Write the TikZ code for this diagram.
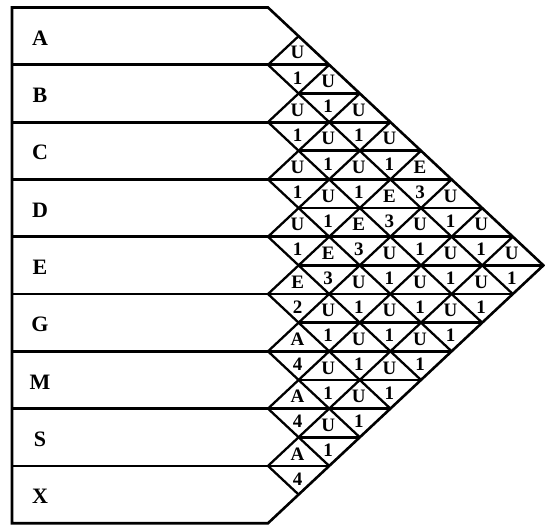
\documentclass[tikz,border=0pt]{standalone}
\usepackage{fontspec}
\setmainfont{Liberation Serif}
\usepackage{tikz}
\usetikzlibrary{calc}

\begin{document}
\begin{tikzpicture}[x=1pt,y=-1pt,
    rowname/.style={font=\fontsize{22}{22}\selectfont\bfseries,inner sep=0pt},
    relcode/.style={font=\fontsize{19}{19}\selectfont\bfseries,inner sep=0pt},
    relnum/.style={font=\fontsize{19}{19}\selectfont\bfseries,inner sep=0pt},
    frame/.style={line width=2.6pt,line join=miter},
    cut/.style={line width=2.8pt},
    slant/.style={line width=2.3pt}
  ]
    \useasboundingbox (0,0) rectangle (545,525);
    % grid origin, row height, cell width
    \def\xo{268}\def\yo{7.5}\def\hr{57.3}\def\cw{61.2}

    \draw[frame] (\xo,\yo) -- (12,\yo) -- (12,\yo+9*\hr) -- (\xo,\yo+9*\hr)
      -- (\xo+4.5*\cw,\yo+4.5*\hr) -- cycle;

    % row boundaries
    \foreach \k in {1,...,8} {
      \pgfmathsetmacro\reach{min(\k,9-\k)}
      \draw[cut] (12,\yo+\k*\hr) -- (\xo+\reach*\cw,\yo+\k*\hr);
    }
    % half-row lines
    \foreach \k in {1,...,7} {
      \pgfmathsetmacro\reach{min(2*\k+1,17-2*\k)/2}
      \draw[cut] (\xo+0.5*\cw,\yo+\k*\hr+0.5*\hr) -- (\xo+\reach*\cw,\yo+\k*\hr+0.5*\hr);
    }
    % diagonals
    \foreach \k in {1,...,8} {
      \draw[slant] (\xo,\yo+\k*\hr) -- ++({\k*0.5*\cw},{-\k*0.5*\hr});
      \draw[slant] (\xo,\yo+\k*\hr) -- ++({(9-\k)*0.5*\cw},{(9-\k)*0.5*\hr});
    }

    \foreach \lab [count=\r from 0] in {A,B,C,D,E,G,M,S,X}
      \node[rowname] (row\lab) at (40,\yo+\r*\hr+0.5*\hr+2) {\lab};

    \foreach \i/\j/\c/\n in {0/1/U/1,0/2/U/1,0/3/U/1,0/4/U/1,0/5/E/3,0/6/U/1,0/7/U/1,0/8/U/1,
        1/2/U/1,1/3/U/1,1/4/U/1,1/5/E/3,1/6/U/1,1/7/U/1,1/8/U/1,
        2/3/U/1,2/4/U/1,2/5/E/3,2/6/U/1,2/7/U/1,2/8/U/1,
        3/4/U/1,3/5/E/3,3/6/U/1,3/7/U/1,3/8/U/1,
        4/5/E/2,4/6/U/1,4/7/U/1,4/8/U/1,
        5/6/A/4,5/7/U/1,5/8/U/1,
        6/7/A/4,6/8/U/1,
        7/8/A/4} {
      \node[relcode] (c\i\j) at ({\xo+(\j-\i)*0.5*\cw-1},{\yo+(\i+\j+1)*0.5*\hr-12}) {\c};
      \node[relnum] (n\i\j) at ({\xo+(\j-\i)*0.5*\cw-1},{\yo+(\i+\j+1)*0.5*\hr+13}) {\n};
    }
  \end{tikzpicture}
\end{document}
